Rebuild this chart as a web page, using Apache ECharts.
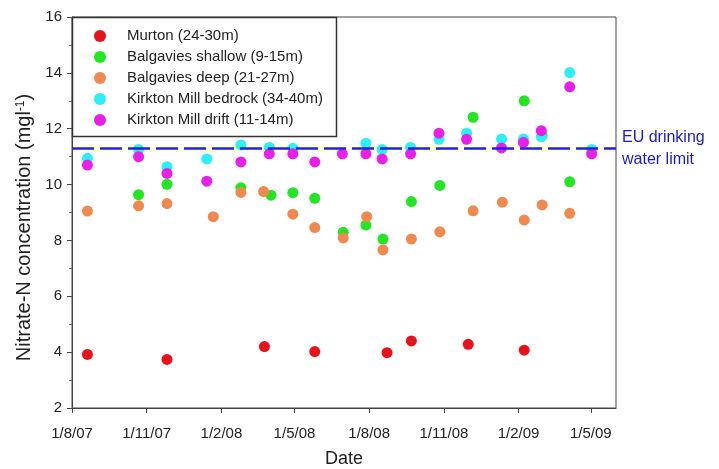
<!DOCTYPE html>
<html>
<head>
<meta charset="utf-8">
<script src="https://cdn.jsdelivr.net/npm/echarts@6/dist/echarts.min.js"></script>
<style>html,body{margin:0;padding:0;background:#fff;}#chart{width:719px;height:469px;}</style>
</head>
<body>
<div id="chart"></div>
<script>
// ---- Data ----
const seriesNames = ['Murton (24-30m)', 'Balgavies shallow (9-15m)', 'Balgavies deep (21-27m)', 'Kirkton Mill bedrock (34-40m)', 'Kirkton Mill drift (11-14m)'];

const murtonDates = ['2007-08-20','2007-11-26','2008-03-25','2008-05-26','2008-08-23','2008-09-22','2008-12-01','2009-02-08'];
const murtonValues = [3.92, 3.74, 4.20, 4.02, 3.98, 4.40, 4.28, 4.07];

const shallowDates = ['2007-10-22','2007-11-26','2008-02-25','2008-04-02','2008-04-29','2008-05-26','2008-06-30','2008-07-28','2008-08-18','2008-09-22','2008-10-27','2008-12-07','2009-02-08','2009-03-02','2009-04-05'];
const shallowValues = [9.64, 10.01, 9.89, 9.62, 9.71, 9.51, 8.29, 8.55, 8.05, 9.39, 9.97, 12.41, 13.00, 11.75, 10.10];

const deepDates = ['2007-08-20','2007-10-22','2007-11-26','2008-01-22','2008-02-25','2008-03-24','2008-04-29','2008-05-26','2008-06-30','2008-07-29','2008-08-18','2008-09-22','2008-10-27','2008-12-07','2009-01-12','2009-02-08','2009-03-02','2009-04-05'];
const deepValues = [9.05, 9.24, 9.32, 8.85, 9.72, 9.75, 8.94, 8.46, 8.09, 8.85, 7.66, 8.05, 8.31, 9.06, 9.37, 8.73, 9.27, 8.97];

const bedrockDates = ['2007-08-20','2007-10-22','2007-11-26','2008-01-14','2008-02-25','2008-03-31','2008-04-29','2008-07-28','2008-08-17','2008-09-21','2008-10-26','2008-11-29','2009-01-11','2009-02-07','2009-03-01','2009-04-05','2009-05-02'];
const bedrockValues = [10.94, 11.26, 10.64, 10.92, 11.42, 11.33, 11.30, 11.48, 11.26, 11.33, 11.62, 11.84, 11.63, 11.63, 11.71, 14.01, 11.26];

const driftDates = ['2007-08-20','2007-10-22','2007-11-26','2008-01-14','2008-02-25','2008-03-31','2008-04-29','2008-05-26','2008-06-29','2008-07-28','2008-08-17','2008-09-21','2008-10-26','2008-11-29','2009-01-11','2009-02-07','2009-03-01','2009-04-05','2009-05-02'];
const driftValues = [10.70, 11.00, 10.40, 10.12, 10.81, 11.10, 11.10, 10.81, 11.10, 11.10, 10.92, 11.10, 11.84, 11.62, 11.31, 11.51, 11.93, 13.50, 11.10];

const euLimit = 11.3;
const euLabel = 'EU drinking\nwater limit';

const tickDates = ['2007-08-01','2007-11-01','2008-02-01','2008-05-01','2008-08-01','2008-11-01','2009-02-01','2009-05-01'];
const tickLabels = ['1/8/07','1/11/07','1/2/08','1/5/08','1/8/08','1/11/08','1/2/09','1/5/09'];
const xMinDate = '2007-08-01';
const xMaxDate = '2009-06-01';
const yTicks = [2, 4, 6, 8, 10, 12, 14, 16];

// ---- Helpers ----
function ts(s) { const p = s.split('-').map(Number); return Date.UTC(p[0], p[1] - 1, p[2]); }
function pairs(dates, vals) { return dates.map((d, i) => [ts(d), vals[i]]); }
const tickTimes = tickDates.map(ts);

const FONT = '"Liberation Sans", Arial, sans-serif';
const colors = ['#e8121a', '#22e622', '#f0894f', '#2bf0f8', '#e91ee9'];

const chart = echarts.init(document.getElementById('chart'), null, { renderer: 'canvas' });

function scatter(name, dates, vals, color, extra) {
  return Object.assign({
    name: name, type: 'scatter', data: pairs(dates, vals),
    symbol: 'circle', symbolSize: 11,
    itemStyle: { color: color, opacity: 1 },
    emphasis: { disabled: true }
  }, extra || {});
}

const option = {
  animation: false,
  backgroundColor: '#ffffff',
  textStyle: { fontFamily: FONT },
  grid: { left: 72, right: 103, top: 17, bottom: 61, show: true, borderColor: '#444', borderWidth: 1, backgroundColor: 'transparent', containLabel: false, outerBoundsMode: 'none' },
  graphic: [{
    type: 'rect', z: 3,
    shape: { x: 72.5, y: 17.5, width: 264, height: 119 },
    style: { fill: '#ffffff', stroke: '#333', lineWidth: 1.5 }
  }],
  legend: {
    orient: 'vertical', left: 94, top: 28, padding: 0, z: 5,
    itemWidth: 12, itemHeight: 12, itemGap: 5,
    icon: 'circle',
    textStyle: { fontFamily: FONT, fontSize: 15, color: '#222', lineHeight: 16, padding: [0, 0, 0, 16] },
    data: seriesNames
  },
  xAxis: {
    type: 'value', min: ts(xMinDate), max: ts(xMaxDate),
    name: 'Date', nameLocation: 'middle', nameGap: 42,
    nameTextStyle: { fontFamily: FONT, fontSize: 18, color: '#222' },
    axisLine: { show: true, lineStyle: { color: '#444', width: 1 } },
    axisTick: { show: true, length: 5, customValues: tickTimes, lineStyle: { color: '#444' } },
    axisLabel: {
      customValues: tickTimes, margin: 18, fontFamily: FONT, fontSize: 15, color: '#222',
      formatter: function (v) {
        let best = 0, bd = Infinity;
        tickTimes.forEach((t, i) => { const d = Math.abs(t - v); if (d < bd) { bd = d; best = i; } });
        return tickLabels[best];
      }
    },
    splitLine: { show: false }
  },
  yAxis: {
    type: 'value', min: yTicks[0], max: yTicks[yTicks.length - 1], interval: 2,
    name: 'Nitrate-N concentration (mgl{sup|-1})', nameLocation: 'middle', nameGap: 34,
    nameTextStyle: {
      fontFamily: FONT, fontSize: 20, color: '#222', padding: [0, 30, 0, 0],
      rich: { sup: { fontFamily: FONT, fontSize: 12, color: '#222', verticalAlign: 'top', padding: [0, 0, 8, 0] } }
    },
    axisLine: { show: true, lineStyle: { color: '#444', width: 1 } },
    axisTick: { show: true, length: 5, lineStyle: { color: '#444' } },
    minorTick: { show: true, splitNumber: 2, length: 3, lineStyle: { color: '#666' } },
    axisLabel: { margin: 10, fontFamily: FONT, fontSize: 15, color: '#222' },
    splitLine: { show: false }
  },
  series: [
    scatter(seriesNames[0], murtonDates, murtonValues, colors[0]),
    scatter(seriesNames[1], shallowDates, shallowValues, colors[1]),
    scatter(seriesNames[2], deepDates, deepValues, colors[2]),
    scatter(seriesNames[3], bedrockDates, bedrockValues, colors[3]),
    scatter(seriesNames[4], driftDates, driftValues, colors[4], {
      markLine: {
        silent: true, symbol: ['none', 'none'], animation: false,
        lineStyle: { color: '#2222dd', width: 2.6, type: [22, 6] },
        label: {
          show: true, position: 'end', distance: 6, formatter: euLabel,
          fontFamily: FONT, fontSize: 16, color: '#1a1acc', lineHeight: 22, align: 'left'
        },
        data: [{ yAxis: euLimit }]
      }
    })
  ]
};
chart.setOption(option);
</script>
</body>
</html>
